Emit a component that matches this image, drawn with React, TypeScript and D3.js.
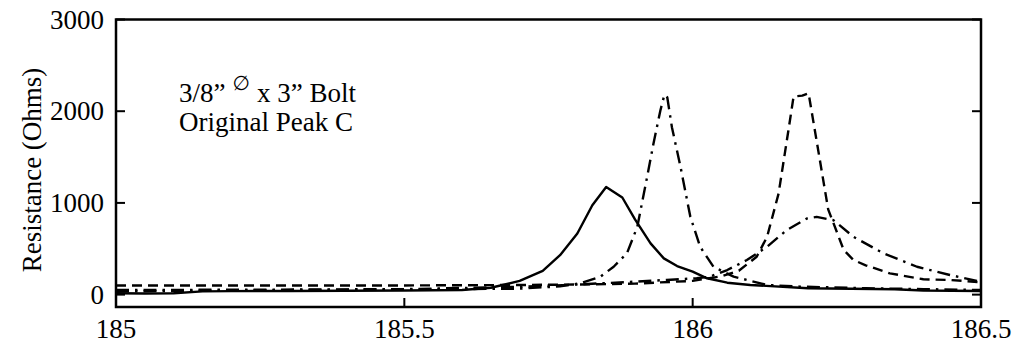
import React from "react";
import * as d3 from "d3";

const xTicks = [185, 185.5, 186, 186.5];
const yTicks = [0, 1000, 2000, 3000];
const xTickLabels = ["185", "185.5", "186", "186.5"];
const yTickLabels = ["0", "1000", "2000", "3000"];

const solidSeries: [number, number][] = [
  [185, 15], [185.05, 12], [185.1, 15], [185.15, 35], [185.2, 38], [185.3, 40], [185.4, 42],
  [185.5, 45], [185.6, 50], [185.65, 75], [185.7, 150], [185.74, 260], [185.77, 430],
  [185.8, 667], [185.826, 975], [185.85, 1174], [185.878, 1059], [185.9, 820], [185.927, 559],
  [185.95, 395], [185.973, 312], [186.0, 250], [186.025, 178], [186.06, 130], [186.1, 105],
  [186.2, 70], [186.35, 58], [186.4, 45], [186.5, 40],
];

const sharpDashDot: [number, number][] = [
  [185, 35], [185.1, 40], [185.3, 50], [185.5, 55], [185.7, 65], [185.77, 90], [185.805, 124],
  [185.84, 196], [185.863, 304], [185.886, 450], [185.904, 739], [185.921, 1283], [185.932, 1646],
  [185.944, 2008], [185.951, 2180], [185.956, 2150], [185.964, 1826], [185.979, 1391],
  [185.996, 848], [186.013, 522], [186.036, 304], [186.071, 196], [186.129, 105], [186.186, 87],
  [186.3, 70], [186.4, 60], [186.5, 50],
];

const dashedSeries: [number, number][] = [
  [185, 100], [185.5, 100], [185.7, 105], [185.8, 110], [185.9, 120], [186.0, 150], [186.05, 200],
  [186.08, 260], [186.111, 413], [186.129, 630], [186.149, 1102], [186.166, 1790], [186.175, 2160],
  [186.19, 2170], [186.201, 2196], [186.235, 930], [186.262, 486], [186.279, 377], [186.3, 320],
  [186.342, 232], [186.4, 167], [186.446, 160], [186.5, 135],
];

const broadDashDot: [number, number][] = [
  [185, 50], [185.3, 55], [185.5, 60], [185.7, 85], [185.8, 110], [185.898, 141], [185.955, 160],
  [186.007, 178], [186.03, 196], [186.06, 268], [186.094, 377], [186.129, 522], [186.163, 703],
  [186.198, 830], [186.215, 848], [186.244, 812], [186.279, 630], [186.331, 450], [186.389, 304],
  [186.446, 214], [186.5, 141],
];

const W = 1013;
const H = 345;
const left = 116;
const right = 981;
const top = 19.5;
const bottom = 307;

export default function App() {
  const x = d3.scaleLinear().domain([185, 186.5]).range([left, right]);
  const y = d3.scaleLinear().domain([-135, 3000]).range([bottom, top]);
  const line = d3
    .line<[number, number]>()
    .x((d) => x(d[0]))
    .y((d) => y(d[1]));

  const font = "Liberation Serif, Times New Roman, serif";
  const series = [
    { data: broadDashDot, dash: "13,6,2.5,6" },
    { data: sharpDashDot, dash: "13,6,2.5,6" },
    { data: dashedSeries, dash: "10,6" },
    { data: solidSeries, dash: "none" },
  ];

  return (
    <svg
      width={W}
      height={H}
      style={{ position: "absolute", left: 0, top: 0, background: "#fff", fontFamily: font }}
    >
      <defs>
        <clipPath id="plotClip">
          <rect x={left} y={top} width={right - left} height={bottom - top} />
        </clipPath>
      </defs>
      <g clipPath="url(#plotClip)">
        {series.map((s, i) => (
          <path
            key={i}
            d={line(s.data) || ""}
            fill="none"
            stroke="#000"
            strokeWidth={2.4}
            strokeDasharray={s.dash}
            strokeLinejoin="round"
          />
        ))}
      </g>
      <rect
        x={left}
        y={top}
        width={right - left}
        height={bottom - top}
        fill="none"
        stroke="#000"
        strokeWidth={2.5}
      />
      {xTicks.map((t, i) => (
        <g key={"xt" + i}>
          <line x1={x(t)} x2={x(t)} y1={bottom} y2={bottom - 9} stroke="#000" strokeWidth={2} />
          <text x={x(t)} y={338} textAnchor="middle" fontSize={27}>
            {xTickLabels[i]}
          </text>
        </g>
      ))}
      {yTicks.map((t, i) => (
        <g key={"yt" + i}>
          <line x1={left} x2={left + 9} y1={y(t)} y2={y(t)} stroke="#000" strokeWidth={2} />
          <line x1={right} x2={right - 9} y1={y(t)} y2={y(t)} stroke="#000" strokeWidth={2} />
          <text x={104} y={y(t) + 9} textAnchor="end" fontSize={27}>
            {yTickLabels[i]}
          </text>
        </g>
      ))}
      <text transform={`translate(41,170) rotate(-90)`} textAnchor="middle" fontSize={27}>
        Resistance (Ohms)
      </text>
      <text x={179} y={102} fontSize={27}>
        3/8”
        <tspan fontSize={20} dx={7} dy={-12} style={{ fontFamily: "DejaVu Sans, sans-serif" }}>∅</tspan>
        <tspan dx={7} dy={12}>x 3” Bolt</tspan>
      </text>
      <text x={179} y={131} fontSize={27}>
        Original Peak C
      </text>
    </svg>
  );
}
